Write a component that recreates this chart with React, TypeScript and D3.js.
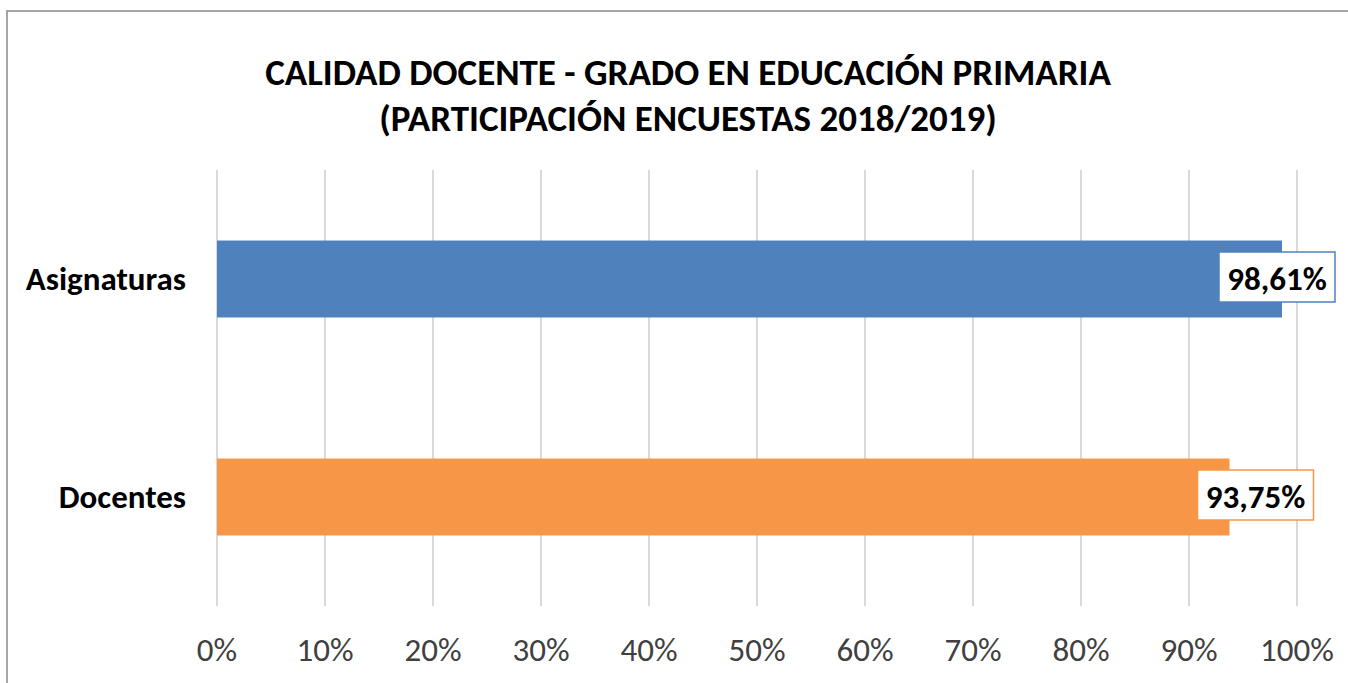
import React, { useEffect, useRef } from "react";
import * as d3 from "d3";

// datos del gráfico
const categories = ["Asignaturas", "Docentes"];
const values = [98.61, 93.75];
const valueLabels = ["98,61%", "93,75%"];
const colors = ["#4f81bd", "#f79646"];
const ticks = [0, 10, 20, 30, 40, 50, 60, 70, 80, 90, 100];
const titleLines = [
  "CALIDAD DOCENTE - GRADO EN EDUCACIÓN PRIMARIA",
  "(PARTICIPACIÓN ENCUESTAS 2018/2019)",
];

// desplazamiento de las etiquetas respecto al final de la barra (movidas a mano en el original)
const labelShift = [-63, -32];

const W = 1348;
const H = 683;
const FONT = "Carlito, Calibri, 'Open Sans', sans-serif";

const App = () => {
  const svgRef = useRef<SVGSVGElement>(null);

  useEffect(() => {
    const svg = d3.select(svgRef.current);
    svg.selectAll("*").remove();

    const x = d3.scaleLinear().domain([0, 100]).range([217, 1297]);
    const y = d3
      .scaleBand()
      .domain(categories)
      .range([170, 606])
      .paddingInner(0.647)
      .paddingOuter(0.3235);

    // marco
    svg
      .append("rect")
      .attr("x", 7)
      .attr("y", 11)
      .attr("width", W + 20)
      .attr("height", H + 20)
      .attr("fill", "#fff")
      .attr("stroke", "#a6a6a6")
      .attr("stroke-width", 2);

    // título
    svg
      .append("g")
      .selectAll("text")
      .data(titleLines)
      .join("text")
      .attr("x", 688)
      .attr("y", (d, i) => 85 + i * 46)
      .attr("text-anchor", "middle")
      .attr("font-family", FONT)
      .attr("font-weight", "bold")
      .attr("font-size", 37)
      .attr("fill", "#000")
      .text((d) => d);

    // cuadrícula
    svg
      .append("g")
      .selectAll("line")
      .data(ticks)
      .join("line")
      .attr("x1", (d) => x(d))
      .attr("x2", (d) => x(d))
      .attr("y1", 170)
      .attr("y2", 606)
      .attr("stroke", "#d9d9d9")
      .attr("stroke-width", 2);

    // etiquetas del eje x
    svg
      .append("g")
      .selectAll("text")
      .data(ticks)
      .join("text")
      .attr("x", (d) => x(d))
      .attr("y", 661)
      .attr("text-anchor", "middle")
      .attr("font-family", FONT)
      .attr("font-size", 33)
      .attr("fill", "#404040")
      .text((d) => `${d}%`);

    // barras
    svg
      .append("g")
      .selectAll("rect")
      .data(values)
      .join("rect")
      .attr("x", x(0))
      .attr("y", (d, i) => y(categories[i]))
      .attr("width", (d) => x(d) - x(0))
      .attr("height", y.bandwidth())
      .attr("fill", (d, i) => colors[i]);

    // etiquetas de categoría
    svg
      .append("g")
      .selectAll("text")
      .data(categories)
      .join("text")
      .attr("x", 186)
      .attr("y", (d) => y(d) + y.bandwidth() / 2 + 10.5)
      .attr("text-anchor", "end")
      .attr("font-family", FONT)
      .attr("font-weight", "bold")
      .attr("font-size", 33)
      .attr("fill", "#000")
      .text((d) => d);

    // etiquetas de valor con recuadro
    const lab = svg
      .append("g")
      .selectAll("g")
      .data(values)
      .join("g")
      .attr(
        "transform",
        (d, i) =>
          `translate(${x(d) + labelShift[i]},${y(categories[i]) + y.bandwidth() / 2 - 2})`
      );

    lab
      .append("rect")
      .attr("x", 0)
      .attr("y", -25)
      .attr("width", 116)
      .attr("height", 50)
      .attr("fill", "#fff")
      .attr("stroke", (d, i) => colors[i])
      .attr("stroke-width", 1.5);

    lab
      .append("text")
      .attr("x", 58)
      .attr("y", 13)
      .attr("text-anchor", "middle")
      .attr("font-family", FONT)
      .attr("font-weight", "bold")
      .attr("font-size", 33)
      .attr("fill", "#000")
      .text((d, i) => valueLabels[i]);
  }, []);

  return (
    <div style={{ position: "absolute", left: 0, top: 0, width: W, height: H, overflow: "hidden" }}>
      <svg ref={svgRef} width={W} height={H} viewBox={`0 0 ${W} ${H}`} />
    </div>
  );
};

export default App;
